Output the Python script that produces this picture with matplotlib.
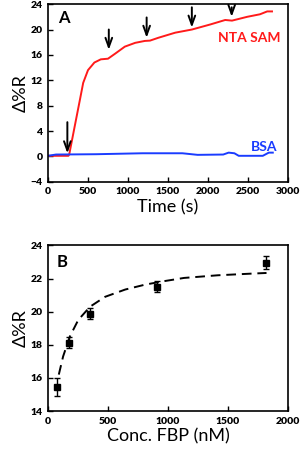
'''
Two-panel SPR style plot: kinetic trace (A) and binding isotherm (B)
'''
import matplotlib
matplotlib.use('Agg')
import matplotlib.pyplot as plt

plt.rcParams['font.family'] = ['Lato', 'DejaVu Sans']

# panel A: time traces
ntaTime = [0, 255, 265, 330, 400, 440, 500, 580, 660, 750, 840, 960, 1090, 1210,
           1275, 1380, 1590, 1800, 2030, 2215, 2300, 2490, 2650, 2740, 2800]
ntaResp = [0.1, 0.1, 0.3, 4.5, 9.0, 11.6, 13.6, 14.8, 15.3, 15.4, 16.2, 17.3, 17.9, 18.2,
           18.25, 18.7, 19.5, 20.0, 20.8, 21.5, 21.4, 22.0, 22.4, 22.85, 22.85]
bsaTime = [0, 100, 600, 1180, 1680, 1870, 2190, 2258, 2330, 2384, 2685, 2760, 2810]
bsaResp = [0.1, 0.3, 0.35, 0.5, 0.5, 0.25, 0.3, 0.6, 0.5, 0.1, 0.1, 0.6, 0.6]

# injection arrows (time, top, tip)
arrowTime = [242, 760, 1233, 1798, 2296]
arrowTop = [5.4, 20.0, 21.9, 23.5, 23.5]
arrowTip = [0.5, 16.8, 18.7, 20.3, 22.0]

# panel B: concentration series
conc = [78, 175, 354, 905, 1816]
resp = [15.45, 18.13, 19.87, 21.52, 22.97]
respErr = [0.57, 0.32, 0.33, 0.31, 0.37]

fitConc = [90, 126, 182, 252, 350, 476, 644, 812, 980, 1134, 1415, 1695, 1821]
fitResp = [16.2, 17.3, 18.5, 19.5, 20.3, 20.9, 21.34, 21.64, 21.86, 22.04, 22.2, 22.3, 22.34]

fig = plt.figure(figsize=(3.0, 4.58), dpi=100)
axA = fig.add_axes([0.16, 0.603, 0.80, 0.388])
axB = fig.add_axes([0.16, 0.1026, 0.80, 0.3614])

# --- panel A ---
axA.plot(ntaTime, ntaResp, color='#ff1a1a', lw=1.4)
axA.plot(bsaTime, bsaResp, color='#1a3cff', lw=1.4)
for t, top, tip in zip(arrowTime, arrowTop, arrowTip):
    axA.annotate('', xy=(t, tip), xytext=(t, top),
                 arrowprops=dict(arrowstyle='->,head_length=0.55,head_width=0.2',
                                 color='k', lw=1.4,
                                 mutation_scale=12, shrinkA=0, shrinkB=0))
axA.text(200, 21.8, 'A', fontsize=12, fontweight='bold', ha='center', va='center')
axA.text(2510, 18.7, 'NTA SAM', color='#ff1a1a', fontsize=10, fontweight='bold',
         ha='center', va='center')
axA.text(2700, 1.5, 'BSA', color='#1a3cff', fontsize=10, fontweight='bold',
         ha='center', va='center')
axA.set_xlim(0, 3000)
axA.set_ylim(-4, 24)
axA.set_xticks(range(0, 3001, 500))
axA.set_yticks(range(-4, 25, 4))
axA.set_xlabel('Time (s)', fontsize=13, labelpad=2)
axA.set_ylabel('Δ%R', fontsize=13, labelpad=1)

# --- panel B ---
axB.plot(fitConc, fitResp, color='k', lw=1.4, dashes=(5, 3))
axB.errorbar(conc, resp, yerr=respErr, fmt='s', color='k', ms=5,
             capsize=2.5, elinewidth=1, capthick=1)
axB.text(115, 23.0, 'B', fontsize=12, fontweight='bold', ha='center', va='center')
axB.set_xlim(0, 2000)
axB.set_ylim(14, 24)
axB.set_xticks(range(0, 2001, 500))
axB.set_yticks(range(14, 25, 2))
axB.set_xlabel('Conc. FBP (nM)', fontsize=13, labelpad=2)
axB.set_ylabel('Δ%R', fontsize=13, labelpad=1)

for ax in (axA, axB):
    ax.tick_params(direction='in', length=3.5, width=1, pad=4)
    for lab in ax.get_xticklabels() + ax.get_yticklabels():
        lab.set_fontsize(7.5)
        lab.set_fontweight('heavy')
    for sp in ax.spines.values():
        sp.set_linewidth(1.2)

fig.savefig('out.png', dpi=100)
